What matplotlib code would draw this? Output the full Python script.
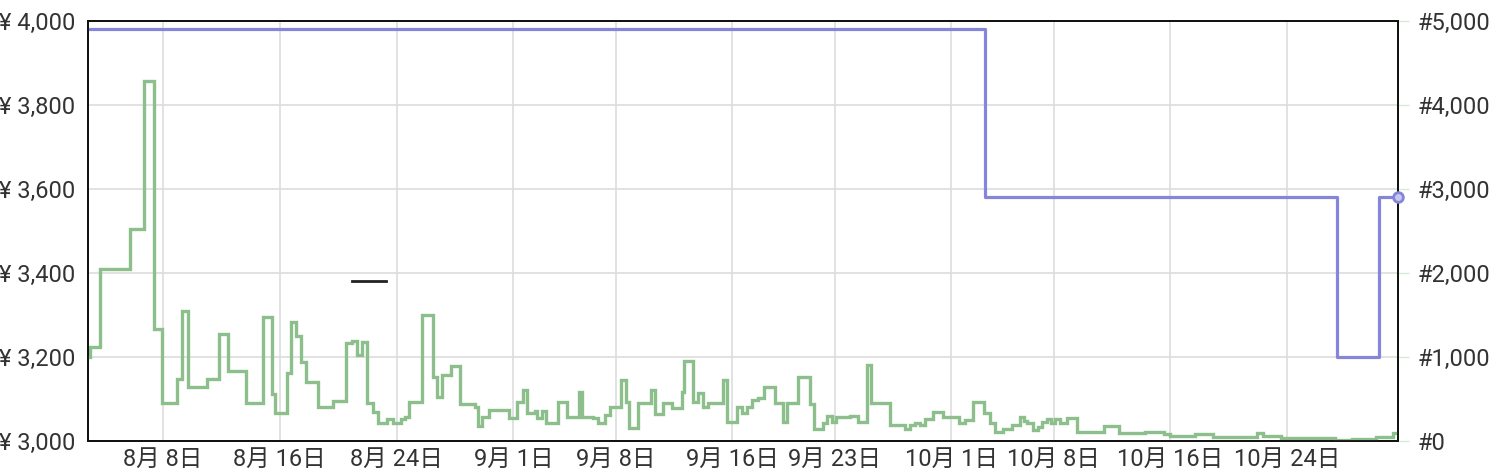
import numpy as np
import pandas as pd
import matplotlib
matplotlib.use('Agg')
import matplotlib.pyplot as plt

plt.rcParams['font.family'] = ['Roboto', 'Noto Sans CJK JP', 'DejaVu Sans']

start = pd.Timestamp('2023-08-01')

# Sales rank (right axis), time in days since Aug 1
rank_day = [1.86, 2.00, 2.68, 4.74, 5.70, 6.38, 6.93, 7.96, 8.30, 8.71,
            10.01, 10.84, 11.45, 12.68, 13.85, 14.47, 14.67, 15.49, 15.77, 16.11,
            16.45, 16.79, 17.62, 18.64, 19.53, 19.95, 20.29, 20.63, 20.97, 21.38,
            21.73, 22.34, 22.75, 23.30, 23.58, 23.85, 24.74, 25.49, 25.77, 26.11,
            26.73, 27.34, 28.37, 28.58, 28.85, 29.33, 30.70, 31.25, 31.66, 31.93,
            32.48, 32.62, 32.96, 33.23, 34.05, 34.67, 35.49, 35.70, 36.45, 36.79,
            37.27, 37.62, 38.37, 38.71, 38.92, 39.53, 40.42, 40.70, 41.25, 41.86,
            42.55, 42.68, 43.30, 43.64, 43.99, 44.33, 45.36, 45.63, 46.32, 46.66,
            47.00, 47.34, 47.75, 48.16, 48.92, 49.47, 49.74, 50.49, 51.32, 51.59,
            52.21, 52.48, 52.82, 53.10, 54.05, 54.60, 55.22, 55.49, 56.79, 57.82,
            58.16, 58.51, 58.85, 59.19, 59.74, 60.42, 61.52, 61.93, 62.48, 63.23,
            63.64, 63.99, 64.53, 65.15, 65.70, 65.97, 66.18, 66.59, 66.93, 67.21,
            67.55, 67.82, 68.10, 68.44, 68.92, 69.60, 71.45, 72.48, 74.26, 75.56,
            75.97, 77.68, 78.92, 81.93, 82.34, 83.58, 87.27, 88.44, 90.08, 91.25,
            91.59]
rank_val = [1000, 1119, 2048, 2524, 4286, 1333, 452, 738, 1548, 643,
            738, 1274, 833, 452, 1476, 560, 333, 810, 1417, 1250,
            940, 702, 405, 476, 1167, 1190, 1024, 1179, 452, 345,
            214, 262, 214, 262, 286, 464, 1500, 762, 524, 786,
            893, 440, 405, 179, 286, 369, 274, 464, 607, 333,
            357, 274, 357, 214, 464, 286, 583, 286, 274, 214,
            310, 405, 726, 464, 155, 452, 607, 321, 452, 393,
            583, 952, 464, 571, 405, 452, 726, 226, 405, 333,
            405, 488, 512, 643, 452, 226, 452, 762, 440, 143,
            214, 298, 226, 286, 298, 226, 905, 452, 190, 143,
            190, 214, 190, 262, 345, 286, 214, 250, 464, 333,
            214, 107, 143, 190, 286, 238, 214, 131, 167, 226,
            262, 214, 262, 214, 274, 107, 179, 95, 107, 83,
            60, 83, 48, 95, 60, 36, 12, 24, 48, 95,
            95]

# Price (left axis)
price_day = [1.86, 63.30, 87.41, 90.29, 91.59]
price_val = [3980, 3580, 3200, 3580, 3580]

# Short black reference mark
mark_day = [19.95, 22.27]
mark_val = [3380, 3380]

x_range_day = [1.86, 91.59]
tick_day = [7, 15, 23, 31, 38, 46, 53, 61, 68, 76, 84]
tick_labels = ['8月 8日', '8月 16日', '8月 24日', '9月 1日', '9月 8日', '9月 16日',
               '9月 23日', '10月 1日', '10月 8日', '10月 16日', '10月 24日']
price_ticks = [3000, 3200, 3400, 3600, 3800, 4000]
rank_ticks = [0, 1000, 2000, 3000, 4000, 5000]


def to_dates(days):
    return start + pd.to_timedelta(np.asarray(days, dtype=float), unit='D')


GREEN = '#8cbf8c'
PURPLE = '#8585dc'
GRID = '#dddddd'
TXT = '#333333'
FS = 17

fig = plt.figure(figsize=(15, 4.76), dpi=100)
ax = fig.add_axes([88 / 1500, 1 - 441 / 476, (1398 - 88) / 1500, 420 / 476])
ax2 = ax.twinx()

ax.set_xlim(to_dates(x_range_day))
ax.set_ylim(price_ticks[0], price_ticks[-1])
ax2.set_ylim(rank_ticks[0], rank_ticks[-1])

ax.set_xticks(to_dates(tick_day))
ax.set_xticklabels(tick_labels)
ax.set_yticks(price_ticks)
ax.set_yticklabels([f'¥ {v:,}' for v in price_ticks])
ax2.set_yticks(rank_ticks)
ax2.set_yticklabels([f'#{v:,}' for v in rank_ticks])

ax.grid(True, color=GRID, linewidth=1.2)
ax.set_axisbelow(True)

ax.tick_params(axis='x', length=0, pad=5, labelsize=FS, labelcolor=TXT)
ax.tick_params(axis='y', length=0, pad=9, labelsize=FS, labelcolor=TXT)
ax2.tick_params(axis='y', length=8, width=1, color='#d6ecd6', pad=6,
                labelsize=FS, labelcolor=TXT)

for a in (ax, ax2):
    for s in a.spines.values():
        s.set_color('#111111')
        s.set_linewidth(1.3)

ax2.plot(to_dates(rank_day), rank_val, drawstyle='steps-post', color=GREEN,
         linewidth=2.4, solid_joinstyle='miter')
ax.plot(to_dates(price_day), price_val, drawstyle='steps-post', color=PURPLE,
        linewidth=2.3, zorder=3)
ax2.plot(to_dates(price_day[-1:]), [(price_val[-1] - price_ticks[0]) * 5],
         marker='o', markersize=7, markerfacecolor='#c8c8f0',
         markeredgecolor=PURPLE, markeredgewidth=2, clip_on=False, zorder=5)
ax.plot(to_dates(mark_day), mark_val, color='#222222', linewidth=2)

fig.savefig('out.png', dpi=100)
